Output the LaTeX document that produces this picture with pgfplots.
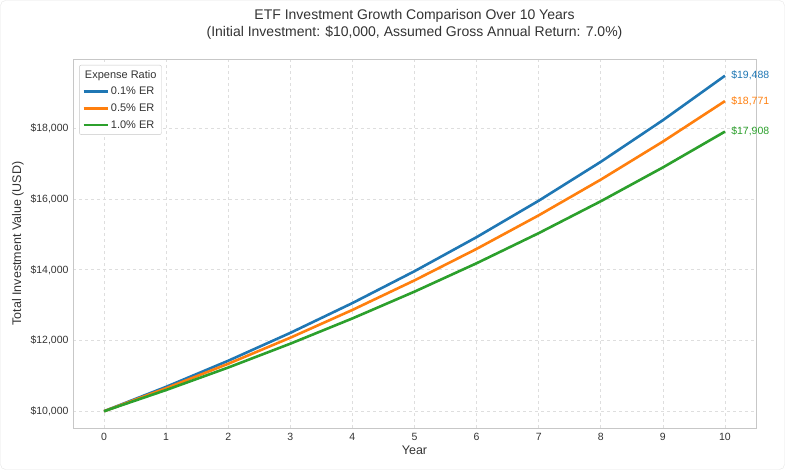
\documentclass[border=0pt]{standalone}
\usepackage{pgfplots}
\usepackage{pgfplotstable}
\pgfplotsset{compat=1.18}
\usepackage{fontspec}
\setmainfont{Liberation Sans}

\definecolor{tabblue}{HTML}{1F77B4}
\definecolor{taborange}{HTML}{FF7F0E}
\definecolor{tabgreen}{HTML}{2CA02C}
\definecolor{txt}{HTML}{333333}

% value of $10,000 after each year, net of expense ratio
\pgfplotstableread{
year  er01      er05      er10
0     10000.00  10000.00  10000.00
1     10690.00  10650.00  10600.00
2     11427.61  11342.25  11236.00
3     12216.12  12079.50  11910.16
4     13059.03  12864.66  12624.77
5     13960.10  13700.87  13382.26
6     14923.35  14591.42  14185.19
7     15953.06  15539.87  15036.30
8     17053.82  16549.96  15938.48
9     18230.54  17625.70  16894.79
10    19488.45  18771.37  17908.48
}\growth

\begin{document}
\begin{tikzpicture}
\path[use as bounding box] (0pt,0pt) rectangle (785pt,470pt);
\draw[black!10, rounded corners=5pt] (0.5pt,0.5pt) rectangle (784.5pt,469.5pt);
\node[align=center, text=txt, font=\fontsize{14}{17}\selectfont] at (414.5pt,445.5pt)
  {ETF Investment Growth Comparison Over 10 Years\\(Initial Investment: \$10,000, Assumed Gross Annual Return: 7.0\%)};
\begin{axis}[
    at={(73pt,42pt)}, anchor=south west,
    scale only axis, width=683pt, height=369pt,
    xmin=-0.5, xmax=10.5, ymin=9526, ymax=19962,
    clip=false,
    xtick={0,1,...,10}, ytick={10000,12000,14000,16000,18000},
    scaled y ticks=false,
    /pgf/number format/assume math mode=true,
    yticklabel={\$\pgfmathprintnumber[1000 sep={,}]{\tick}},
    grid=major,
    major grid style={dashed, black!13, line width=0.6pt},
    axis line style={black!22, line width=0.8pt},
    major tick length=0pt,
    ticklabel style={font=\fontsize{10.5}{12}\selectfont, text=txt},
    xticklabel style={yshift=-2pt},
    yticklabel style={xshift=-1pt},
    xlabel={Year}, ylabel={Total Investment Value (USD)},
    label style={font=\fontsize{12.5}{14}\selectfont, text=txt},
    xlabel style={yshift=2pt},
    legend cell align=left,
    legend style={at={(0.009,0.984)}, anchor=north west, draw=black!22,
        rounded corners=2pt, fill=white, font=\fontsize{11}{13}\selectfont,
        text=txt, row sep=3.5pt, inner sep=3pt},
    legend image code/.code={\draw[#1, line width=2.6pt] (0pt,0pt) -- (24pt,0pt);},
]
\addlegendimage{empty legend}
\addlegendentry{\hspace*{-26pt}Expense Ratio}
\addplot[tabblue, line width=2.6pt] table[x=year, y=er01] {\growth}
  node[pos=1, anchor=west, inner sep=1pt, xshift=4pt, text=tabblue, font=\fontsize{10.5}{12}\selectfont] {\$19,488};
\addlegendentry{0.1\% ER}
\addplot[taborange, line width=2.6pt] table[x=year, y=er05] {\growth}
  node[pos=1, anchor=west, inner sep=1pt, xshift=4pt, text=taborange, font=\fontsize{10.5}{12}\selectfont] {\$18,771};
\addlegendentry{0.5\% ER}
\addplot[tabgreen, line width=2.6pt] table[x=year, y=er10] {\growth}
  node[pos=1, anchor=west, inner sep=1pt, xshift=4pt, text=tabgreen, font=\fontsize{10.5}{12}\selectfont] {\$17,908};
\addlegendentry{1.0\% ER}
\end{axis}
\end{tikzpicture}
\end{document}
